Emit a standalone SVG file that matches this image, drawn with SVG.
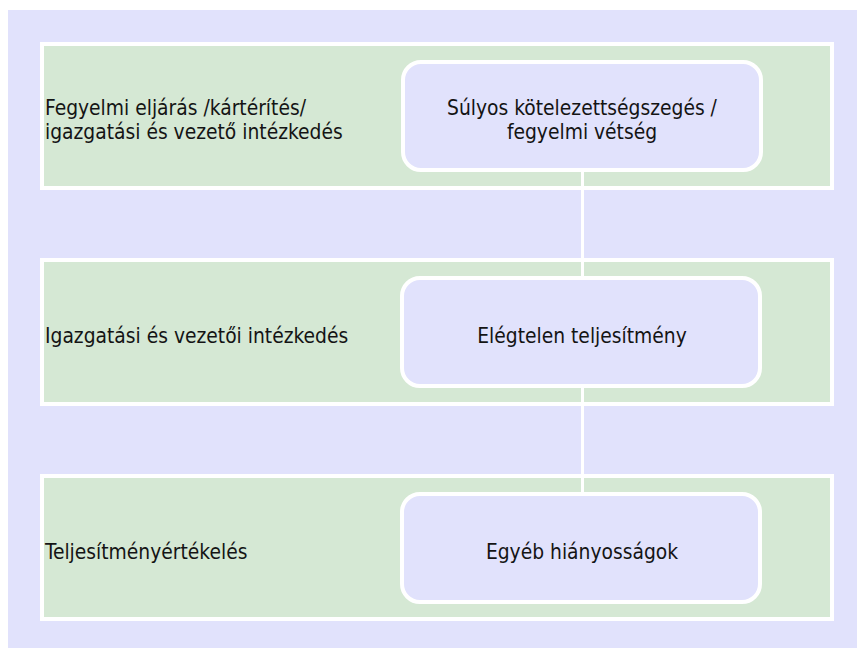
<svg xmlns="http://www.w3.org/2000/svg" width="857" height="648" viewBox="0 0 857 648">
<style>
.band{fill:#D5E8D4;stroke:#FFFFFF;stroke-width:4}
.node{fill:#E1E2FC;stroke:#FFFFFF;stroke-width:4}
.conn{stroke:#FFFFFF;stroke-width:3;fill:none}
text{font-family:"DejaVu Sans Condensed","Liberation Sans",sans-serif;font-size:20.8px;fill:#141414}
.c{text-anchor:middle}
</style>
<rect x="0" y="0" width="857" height="648" fill="#FFFFFF"/>
<rect x="8" y="10" width="849" height="638" fill="#E1E2FC"/>
<g id="band1"><rect class="band" x="42" y="44" width="790" height="144"/>
<text x="45" y="115">Fegyelmi eljárás /kártérítés/</text>
<text x="45" y="139">igazgatási és vezető intézkedés</text></g>
<g id="band2"><rect class="band" x="42" y="260" width="790" height="144"/>
<text x="45" y="343">Igazgatási és vezetői intézkedés</text></g>
<g id="band3"><rect class="band" x="42" y="476" width="790" height="143"/>
<text x="45" y="559">Teljesítményértékelés</text></g>
<g id="connectors">
<line class="conn" x1="582.5" y1="170" x2="582.5" y2="278"/>
<line class="conn" x1="582.5" y1="386" x2="582.5" y2="494"/>
</g>
<g id="node1"><rect class="node" x="403" y="62" width="358" height="108" rx="18"/>
<text class="c" x="582" y="115">Súlyos kötelezettségszegés /</text>
<text class="c" x="582" y="139">fegyelmi vétség</text></g>
<g id="node2"><rect class="node" x="402" y="278" width="358" height="108" rx="18"/>
<text class="c" x="582" y="343">Elégtelen teljesítmény</text></g>
<g id="node3"><rect class="node" x="402" y="494" width="358" height="108" rx="18"/>
<text class="c" x="582" y="559">Egyéb hiányosságok</text></g>
</svg>
